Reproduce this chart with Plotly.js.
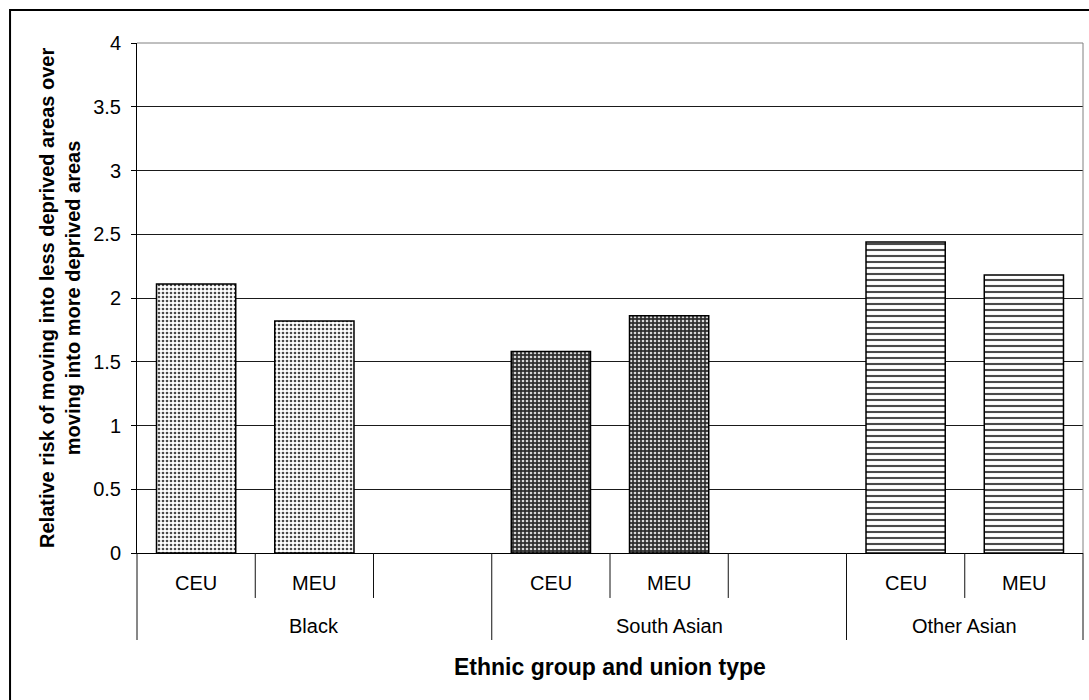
<!DOCTYPE html>
<html>
<head>
<meta charset="utf-8">
<script src="https://cdn.plot.ly/plotly-3.0.1.min.js"></script>
<style>
  html, body { margin: 0; padding: 0; background: #fff; }
  #chart { width: 1089px; height: 700px; }
</style>
</head>
<body>
<div id="chart"></div>
<script>
// Relative risk of moving into less deprived areas over moving into more deprived areas
const groupNames = ["Black", "South Asian", "Other Asian"];
const unionLabels = ["CEU", "MEU"];
const blackRisk = [2.11, 1.82];
const southAsianRisk = [1.58, 1.86];
const otherAsianRisk = [2.44, 2.18];
const yTickValues = [0, 0.5, 1, 1.5, 2, 2.5, 3, 3.5, 4];
const yTickLabels = ["0", "0.5", "1", "1.5", "2", "2.5", "3", "3.5", "4"];

const seriesValues = [blackRisk, southAsianRisk, otherAsianRisk];

// fill pattern for each ethnic group
const groupPatterns = [
  { shape: ".", fgcolor: "#4a4a4a", bgcolor: "#ffffff", size: 4, solidity: 0.35 },
  { shape: ".", fgcolor: "#d8d8d8", bgcolor: "#2e2e2e", size: 4, solidity: 0.35 },
  { shape: "-", fgcolor: "#4a4a4a", bgcolor: "#ffffff", size: 6, solidity: 0.35 }
];

const FONT = "Liberation Sans, Arial, Helvetica, sans-serif";

// each group holds its union types plus one spacer column (the last spacer is dropped)
const slotsPerGroup = unionLabels.length + 1;
const slotCount = groupNames.length * slotsPerGroup - 1;
const xMin = -0.5, xMax = slotCount - 0.5;
const toPaperX = v => (v - xMin) / (xMax - xMin);

const traces = groupNames.map((g, gi) => ({
  type: "bar",
  name: g,
  x: unionLabels.map((u, ui) => gi * slotsPerGroup + ui),
  y: seriesValues[gi],
  width: 0.67,
  marker: {
    color: groupPatterns[gi].bgcolor,
    pattern: groupPatterns[gi],
    line: { color: "#000000", width: 1.5 }
  },
  hoverinfo: "y"
}));

// category axis drawn by hand: short ticks between columns, long dividers between groups
const ROW1_BOTTOM = -0.0882;
const ROW2_BOTTOM = -0.1706;
const shapes = [];
for (let b = 0; b <= slotCount; b++) {
  const pos = b - 0.5;
  const isDivider = (b % slotsPerGroup === 0) || b === slotCount;
  shapes.push({
    type: "line", xref: "paper", yref: "paper",
    x0: toPaperX(pos), x1: toPaperX(pos),
    y0: 0, y1: isDivider ? ROW2_BOTTOM : ROW1_BOTTOM,
    line: { color: "#111111", width: 1 }
  });
}
// plot area frame (top and right)
shapes.push({ type: "line", xref: "paper", yref: "paper", x0: 0, x1: 1, y0: 1, y1: 1,
  line: { color: "#808080", width: 1 } });
shapes.push({ type: "line", xref: "paper", yref: "paper", x0: 1, x1: 1, y0: 0, y1: 1,
  line: { color: "#808080", width: 1 } });
// outer chart frame
shapes.push({ type: "rect", xref: "paper", yref: "paper",
  x0: -0.1342, x1: 1.06, y0: -0.36, y1: 1.0647,
  line: { color: "#000000", width: 2 }, fillcolor: "rgba(0,0,0,0)" });

const annotations = [];
groupNames.forEach((g, gi) => {
  unionLabels.forEach((u, ui) => {
    annotations.push({
      x: gi * slotsPerGroup + ui, xref: "x", y: -0.0588, yref: "paper",
      text: u, showarrow: false, xanchor: "center", yanchor: "middle",
      font: { family: FONT, size: 20, color: "#000" }
    });
  });
  const start = gi * slotsPerGroup - 0.5;
  const end = Math.min(start + slotsPerGroup, xMax);
  annotations.push({
    x: (start + end) / 2, xref: "x", y: -0.143, yref: "paper",
    text: g, showarrow: false, xanchor: "center", yanchor: "middle",
    font: { family: FONT, size: 20, color: "#000" }
  });
});
// axis titles
annotations.push({
  x: 0.5, xref: "paper", y: -0.2235, yref: "paper",
  text: "<b>Ethnic group and union type</b>", showarrow: false,
  xanchor: "center", yanchor: "middle",
  font: { family: FONT, size: 23, color: "#000" }
});
annotations.push({
  x: -0.0814, xref: "paper", y: 0.5, yref: "paper",
  text: "<b>Relative risk of moving into less deprived areas over<br>moving into more deprived areas</b>",
  showarrow: false, textangle: -90, xanchor: "center", yanchor: "middle",
  font: { family: FONT, size: 20, color: "#000" }
});

const layout = {
  width: 1089, height: 700,
  margin: { l: 137, r: 6, t: 43, b: 147, pad: 0 },
  paper_bgcolor: "#ffffff", plot_bgcolor: "#ffffff",
  showlegend: false,
  barmode: "overlay",
  font: { family: FONT, color: "#000" },
  xaxis: {
    range: [xMin, xMax], showticklabels: false, ticks: "",
    showgrid: false, zeroline: false,
    showline: true, linecolor: "#000000", linewidth: 1
  },
  yaxis: {
    range: [0, 4], tickvals: yTickValues, ticktext: yTickLabels,
    ticks: "outside", ticklen: 5, tickcolor: "#000000", tickwidth: 1,
    ticklabelstandoff: 6,
    tickfont: { family: FONT, size: 20, color: "#000" },
    showgrid: true, gridcolor: "#1a1a1a", gridwidth: 1,
    zeroline: false, showline: true, linecolor: "#000000", linewidth: 1
  },
  shapes: shapes,
  annotations: annotations
};

Plotly.newPlot("chart", traces, layout, { displayModeBar: false, staticPlot: true });
</script>
</body>
</html>
